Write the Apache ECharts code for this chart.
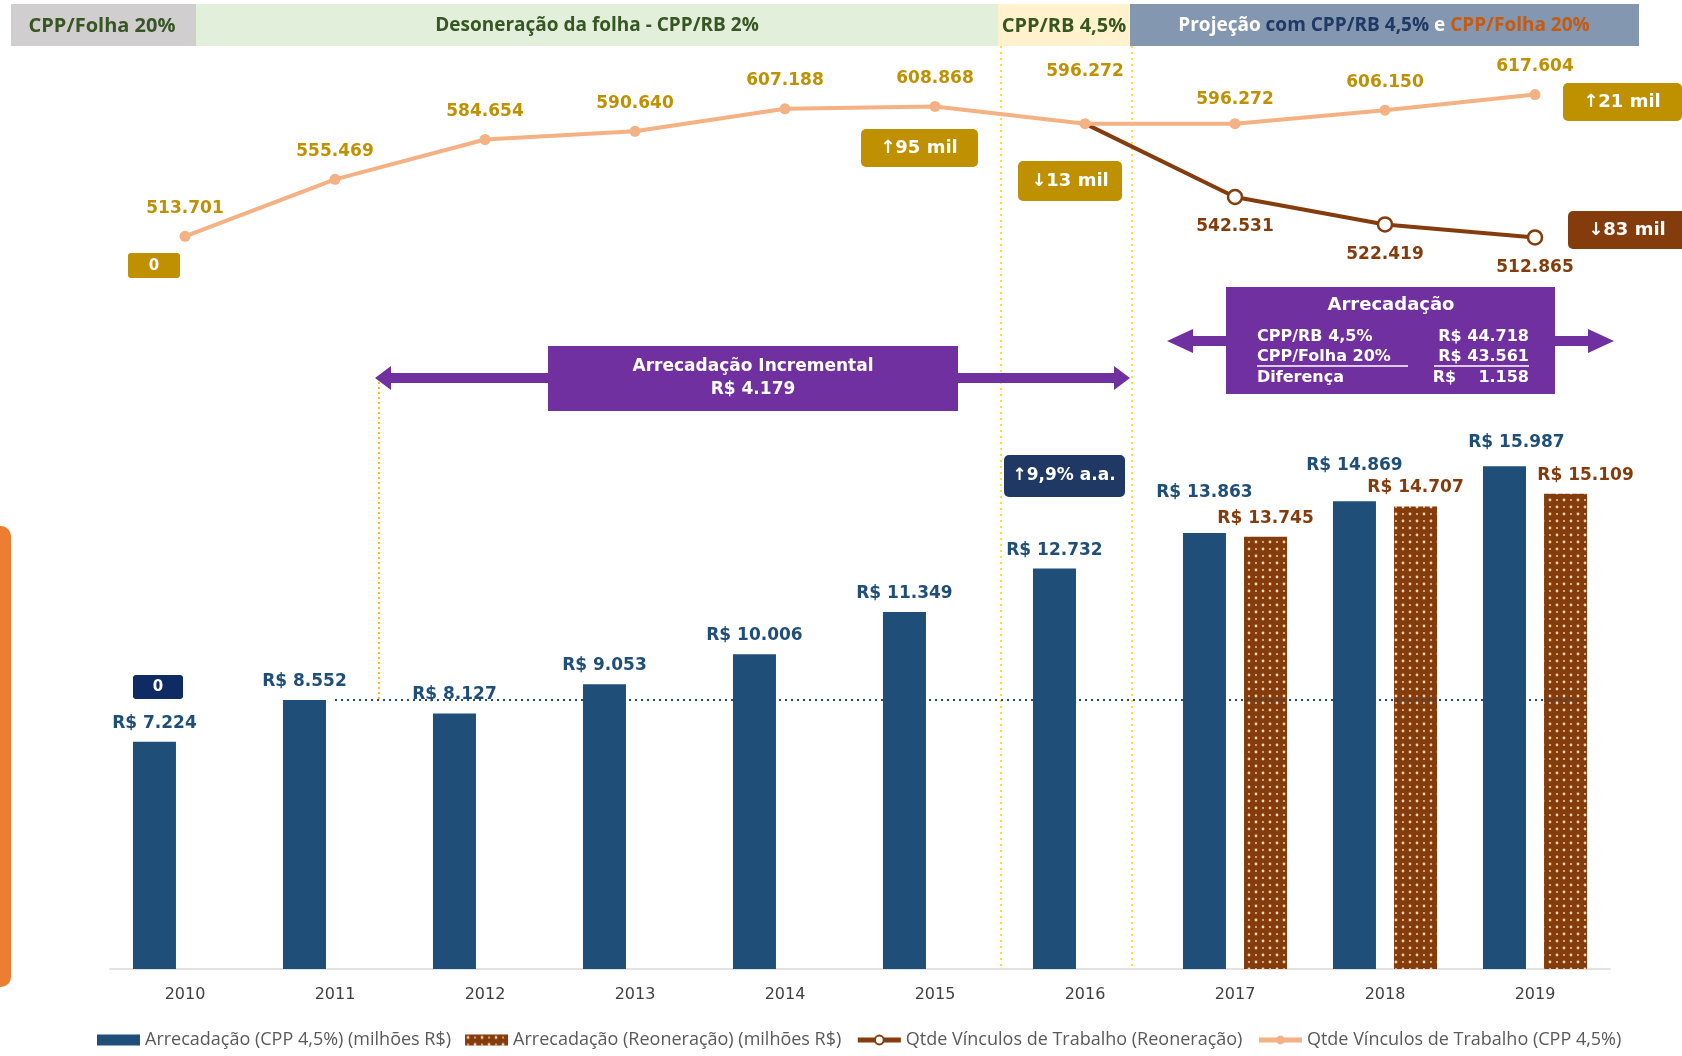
<!DOCTYPE html>
<html style="height: 100%; width: 100%">
  <head>
    <meta charset="utf-8" />
  </head>
  <body style="height: 100%; width: 100%; margin: 0">
    <div id="chart-panel" style="height: 1056px; width: 1682px"></div>
    <script src="https://cdn.jsdelivr.net/npm/echarts@6/dist/echarts.min.js"></script>
    <script type="text/javascript">
      var years = ["2010", "2011", "2012", "2013", "2014", "2015", "2016", "2017", "2018", "2019"];
      // arrecadação em milhões R$
      var arrecadacaoCpp = [7224, 8552, 8127, 9053, 10006, 11349, 12732, 13863, 14869, 15987];
      var arrecadacaoReoneracao = [null, null, null, null, null, null, null, 13745, 14707, 15109];
      // vínculos de trabalho
      var vinculosCpp = [513701, 555469, 584654, 590640, 607188, 608868, 596272, 596272, 606150, 617604];
      var vinculosReoneracao = [null, null, null, null, null, null, 596272, 542531, 522419, 512865];
      // nível de referência (2011) da linha pontilhada
      var nivelReferencia = 8552;

      var BLUE = "#1f4e79";
      var BROWN = "#843c0c";
      var PEACH = "#f4b183";
      var GOLD = "#bf9000";
      var PURPLE = "#7030a0";
      var LABEL_FONT = "DejaVu Sans";
      var NARROW = "'Liberation Sans Narrow', 'Open Sans', sans-serif";

      function fmt(n) {
        return String(n).replace(/\B(?=(\d{3})+(?!\d))/g, ".");
      }

      // padrão pontilhado das barras marrons
      function dotPattern() {
        var c = document.createElement("canvas");
        c.width = 14;
        c.height = 14;
        var g = c.getContext("2d");
        g.fillStyle = BROWN;
        g.fillRect(0, 0, 14, 14);
        g.fillStyle = "#fbd7b5";
        [[3, 3, 1.4], [10, 3, 0.9], [3, 10, 0.9], [10, 10, 1.4]].forEach(function (d) {
          g.beginPath();
          g.arc(d[0], d[1], d[2], 0, Math.PI * 2);
          g.fill();
        });
        return c;
      }

      // deslocamentos de rótulos para evitar sobreposição
      var blueOffsets = { 7: [0, -22], 8: [0, -17], 9: [12, -5] };
      var brownOffsets = { 9: [20, 0] };
      var peachOffsets = { 6: [0, -24], 7: [0, 4] };

      function withOffsets(values, offsets) {
        return values.map(function (v, i) {
          if (offsets[i]) return { value: v, label: { offset: offsets[i] } };
          return v;
        });
      }

      var reonLineData = vinculosReoneracao.map(function (v, i) {
        if (i === 6) return { value: v, symbol: "none", label: { show: false } };
        return v;
      });

      var dom = document.getElementById("chart-panel");
      var myChart = echarts.init(dom);

      function txt(x, y, text, opts) {
        opts = opts || {};
        return {
          type: "text",
          x: x,
          y: y,
          z: 100,
          style: {
            text: text,
            fill: opts.fill || "#fff",
            fontSize: opts.size || 16,
            fontWeight: opts.weight || "bold",
            fontFamily: opts.family || LABEL_FONT,
            align: opts.align || "center",
            verticalAlign: "middle",
            textAlign: opts.align || "center",
            textVerticalAlign: "middle",
            rich: opts.rich
          }
        };
      }
      function rect(x, y, w, h, fill, r) {
        return {
          type: "rect",
          z: 99,
          shape: { x: x, y: y, width: w, height: h, r: r || 0 },
          style: { fill: fill }
        };
      }
      function vline(x, y1, y2, color, dash) {
        return {
          type: "line",
          z: 1,
          shape: { x1: x, y1: y1, x2: x, y2: y2 },
          style: { stroke: color, lineWidth: 2, lineDash: dash }
        };
      }
      function hline(x1, x2, y, color) {
        return {
          type: "line",
          z: 101,
          shape: { x1: x1, y1: y, x2: x2, y2: y },
          style: { stroke: color, lineWidth: 1.5 }
        };
      }
      function doubleArrow(x1, x2, y, t, hl, hh) {
        return {
          type: "polygon",
          z: 98,
          shape: {
            points: [
              [x1, y], [x1 + hl, y - hh], [x1 + hl, y - t], [x2 - hl, y - t], [x2 - hl, y - hh],
              [x2, y], [x2 - hl, y + hh], [x2 - hl, y + t], [x1 + hl, y + t], [x1 + hl, y + hh]
            ]
          },
          style: { fill: PURPLE }
        };
      }

      var richHead = function (color) {
        return { fill: color, color: color, fontSize: 19, fontWeight: "bold", fontFamily: NARROW };
      };

      var graphics = [
        // faixa laranja à esquerda
        rect(-12, 526, 23, 461, "#ed7d31", 10),
        // cabeçalho
        rect(11, 4, 185, 42, "#d0cece"),
        rect(196, 4, 802, 42, "#e2efda"),
        rect(998, 4, 132, 42, "#fff2cc"),
        rect(1130, 4, 509, 42, "#8497b0"),
        txt(102, 26, "CPP/Folha 20%", { fill: "#375623", size: 20, family: NARROW }),
        txt(597, 26, "Desoneração da folha - CPP/RB 2%", { fill: "#375623", size: 19, family: NARROW }),
        txt(1064, 26, "CPP/RB 4,5%", { fill: "#375623", size: 20, family: NARROW }),
        txt(1384, 26, "{w|Projeção} {n|com CPP/RB 4,5%} {w|e} {o|CPP/Folha 20%}", {
          size: 19,
          family: NARROW,
          rich: { w: richHead("#fff"), n: richHead("#1f3864"), o: richHead("#c55a11") }
        }),
        // linhas verticais pontilhadas
        vline(1001, 46, 969, "#ffe033", [2, 4]),
        vline(1132, 46, 969, "#ffe033", [2, 4]),
        vline(379, 382, 700, "#ffc000", [2, 3]),
        // caixas de variação
        rect(128, 253, 52, 25, GOLD, 3),
        txt(154, 266, "0", { size: 15 }),
        rect(861, 129, 117, 38, GOLD, 5),
        txt(919, 148, "↑95 mil", { size: 18 }),
        rect(1018, 161, 104, 40, GOLD, 5),
        txt(1070, 181, "↓13 mil", { size: 18 }),
        rect(1563, 83, 119, 38, GOLD, 5),
        txt(1622, 102, "↑21 mil", { size: 18 }),
        rect(1568, 211, 118, 38, BROWN, 5),
        txt(1627, 230, "↓83 mil", { size: 18 }),
        rect(133, 675, 50, 24, "#0e2b63", 3),
        txt(158, 687, "0", { size: 15 }),
        rect(1004, 455, 121, 42, "#1f3864", 5),
        txt(1064, 476, "↑9,9% a.a.", { size: 17 }),
        // arrecadação incremental
        doubleArrow(375, 1130, 378, 5, 16, 12),
        rect(548, 346, 410, 65, PURPLE),
        txt(753, 367, "Arrecadação Incremental", { size: 17 }),
        txt(753, 390, "R$ 4.179", { size: 17 }),
        // arrecadação projetada
        doubleArrow(1167, 1614, 341, 5, 26, 12),
        rect(1226, 287, 329, 107, PURPLE),
        txt(1391, 305, "Arrecadação", { size: 18 }),
        txt(1257, 337, "CPP/RB 4,5%", { size: 16, align: "left" }),
        txt(1529, 337, "R$ 44.718", { size: 16, align: "right" }),
        txt(1257, 357, "CPP/Folha 20%", { size: 16, align: "left" }),
        txt(1529, 357, "R$ 43.561", { size: 16, align: "right" }),
        hline(1257, 1408, 366, "#fff"),
        hline(1434, 1529, 366, "#fff"),
        txt(1257, 378, "Diferença", { size: 16, align: "left" }),
        txt(1529, 378, "R$    1.158", { size: 16, align: "right" })
      ];

      var option = {
        backgroundColor: "#fff",
        animation: false,
        grid: [
          { left: 110, right: 72, top: 64, height: 191 },
          { left: 110, right: 72, top: 340, bottom: 87 }
        ],
        xAxis: [
          { type: "category", gridIndex: 0, data: years, show: false },
          {
            type: "category",
            gridIndex: 1,
            data: years,
            axisLine: { lineStyle: { color: "#d9d9d9", width: 1.5 } },
            axisTick: { show: false },
            axisLabel: { color: "#404040", fontSize: 16, fontFamily: LABEL_FONT, margin: 18 }
          }
        ],
        yAxis: [
          { type: "value", gridIndex: 0, min: 500000, max: 640000, show: false },
          { type: "value", gridIndex: 1, min: 0, max: 20000, show: false }
        ],
        legend: {
          bottom: 2,
          left: 92,
          itemWidth: 43,
          itemHeight: 11,
          itemGap: 14,
          lineStyle: { width: 5 },
          textStyle: { color: "#595959", fontSize: 18, fontFamily: NARROW },
          data: [
            { name: "Arrecadação (CPP 4,5%) (milhões R$)", icon: "rect" },
            { name: "Arrecadação (Reoneração) (milhões R$)", icon: "rect" },
            "Qtde Vínculos de Trabalho (Reoneração)",
            "Qtde Vínculos de Trabalho (CPP 4,5%)"
          ]
        },
        series: [
          {
            name: "Arrecadação (CPP 4,5%) (milhões R$)",
            type: "bar",
            xAxisIndex: 1,
            yAxisIndex: 1,
            barWidth: 43,
            barGap: "42%",
            itemStyle: { color: BLUE },
            label: {
              show: true,
              position: "top",
              distance: 10,
              color: BLUE,
              fontSize: 17,
              fontWeight: "bold",
              fontFamily: LABEL_FONT,
              formatter: function (p) {
                return "R$ " + fmt(p.value);
              }
            },
            data: withOffsets(arrecadacaoCpp, blueOffsets)
          },
          {
            name: "Arrecadação (Reoneração) (milhões R$)",
            type: "bar",
            xAxisIndex: 1,
            yAxisIndex: 1,
            barWidth: 43,
            itemStyle: { color: { image: dotPattern(), repeat: "repeat" } },
            label: {
              show: true,
              position: "top",
              distance: 10,
              color: BROWN,
              fontSize: 17,
              fontWeight: "bold",
              fontFamily: LABEL_FONT,
              formatter: function (p) {
                return "R$ " + fmt(p.value);
              }
            },
            data: withOffsets(arrecadacaoReoneracao, brownOffsets)
          },
          {
            name: "Qtde Vínculos de Trabalho (Reoneração)",
            type: "line",
            xAxisIndex: 0,
            yAxisIndex: 0,
            z: 2,
            symbol: "circle",
            symbolSize: 14,
            lineStyle: { color: BROWN, width: 4 },
            itemStyle: { color: "#fff", borderColor: BROWN, borderWidth: 2.5 },
            label: {
              show: true,
              position: "bottom",
              distance: 13,
              color: BROWN,
              fontSize: 17,
              fontWeight: "bold",
              fontFamily: LABEL_FONT,
              formatter: function (p) {
                return fmt(p.value);
              }
            },
            data: reonLineData
          },
          {
            name: "Qtde Vínculos de Trabalho (CPP 4,5%)",
            type: "line",
            xAxisIndex: 0,
            yAxisIndex: 0,
            z: 3,
            symbol: "circle",
            symbolSize: 11,
            lineStyle: { color: PEACH, width: 4 },
            itemStyle: { color: PEACH },
            label: {
              show: true,
              position: "top",
              distance: 14,
              color: GOLD,
              fontSize: 17,
              fontWeight: "bold",
              fontFamily: LABEL_FONT,
              formatter: function (p) {
                return fmt(p.value);
              }
            },
            data: withOffsets(vinculosCpp, peachOffsets)
          }
        ],
        graphic: graphics
      };

      myChart.setOption(option);

      // linha pontilhada do nível de 2011, do centro de 2011 até depois da última barra
      var yRef = myChart.convertToPixel({ xAxisIndex: 1, yAxisIndex: 1 }, ["2011", nivelReferencia]);
      var xEnd = myChart.convertToPixel({ xAxisIndex: 1 }, "2019");
      myChart.setOption({
        series: [
          {
            name: "Arrecadação (CPP 4,5%) (milhões R$)",
            markLine: {
              silent: true,
              symbol: "none",
              label: { show: false },
              lineStyle: { type: [2, 4], color: BLUE, width: 2 },
              data: [[{ x: yRef[0], y: yRef[1] }, { x: xEnd + 43, y: yRef[1] }]]
            }
          }
        ]
      });
    </script>
  </body>
</html>
